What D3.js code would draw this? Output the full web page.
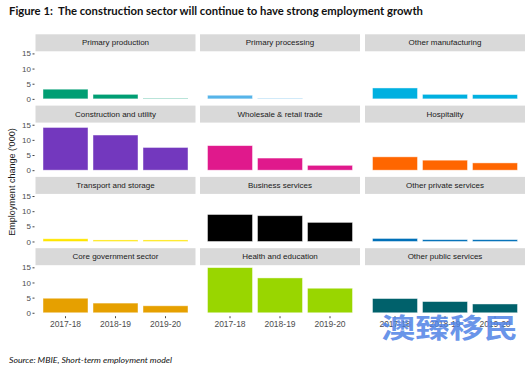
<!DOCTYPE html>
<html>
<head>
<meta charset="utf-8">
<script src="https://cdn.jsdelivr.net/npm/d3@7"></script>
<style>
  body { margin: 0; background: #fff; }
  svg { display: block; }
</style>
</head>
<body>
<div id="chart"></div>
<script>
// data
var sectors = ["Primary production", "Primary processing", "Other manufacturing",
  "Construction and utility", "Wholesale & retail trade", "Hospitality",
  "Transport and storage", "Business services", "Other private services",
  "Core government sector", "Health and education", "Other public services"]
var years = ["2017-18", "2018-19", "2019-20"]
var change1718 = [3.2, 1.2, 3.6, 14.1, 8.1, 4.4, 0.9, 8.9, 1.0, 4.8, 14.9, 4.7]
var change1819 = [1.5, 0.2, 1.5, 11.6, 4.0, 3.3, 0.5, 8.5, 0.6, 3.2, 11.5, 3.7]
var change1920 = [0.2, 0.0, 1.4, 7.5, 1.6, 2.4, 0.5, 6.3, 0.6, 2.3, 8.1, 2.9]
var yTicks = [0, 5, 10, 15]

var sectorColors = ["#009E73", "#56B4E9", "#00B0E0", "#7338BE", "#E0198C", "#FF6600",
  "#FFE600", "#000000", "#0070B8", "#E6A000", "#99D600", "#00616B"]

var width = 532, height = 370
var svg = d3.select("#chart").append("svg")
    .attr("width", width).attr("height", height)

svg.append("rect").attr("width", width).attr("height", height).style("fill", "#fff")

// title
svg.append("text")
    .attr("x", 9).attr("y", 15)
    .attr("textLength", 414).attr("lengthAdjust", "spacingAndGlyphs")
    .style("white-space", "pre")
    .style("font-family", "Lato, 'Open Sans', sans-serif")
    .style("font-weight", "bold").style("font-size", "10.5px").style("fill", "#111")
    .text("Figure 1:  The construction sector will continue to have strong employment growth")

// facet layout
var panelW = 160, panelH = 50, stripH = 17,
  colX = [35.5, 200, 365],
  rowPitch = 71.3, top0 = 34.3

// discrete axis with ggplot-like expansion, bars 0.9 wide
var unit = panelW / 3.2
var x = d3.scaleBand().domain(years)
    .range([0.1 * unit, panelW - 0.1 * unit])
    .paddingInner(0.1).paddingOuter(0.05)

var y = d3.scaleLinear().domain([-0.8, 15.7]).range([panelH, 0])

sectors.forEach(function(name, i){
  var col = i % 3, row = Math.floor(i / 3)
  var g = svg.append("g")
      .attr("transform", "translate(" + colX[col] + "," + (top0 + row * rowPitch) + ")")

  g.append("rect")
      .attr("width", panelW).attr("height", stripH)
      .style("fill", "#d9d9d9")
  g.append("text")
      .attr("x", panelW / 2).attr("y", stripH / 2 + 2.7)
      .attr("text-anchor", "middle")
      .style("font-family", "'Liberation Sans Narrow', 'Liberation Sans', Arial, sans-serif")
      .style("font-size", "8px").style("fill", "#1a1a1a")
      .text(name)

  var p = g.append("g").attr("transform", "translate(0," + stripH + ")")
  var vals = [change1718[i], change1819[i], change1920[i]]

  p.selectAll("rect.bar").data(years).enter().append("rect")
      .attr("class", "bar")
      .attr("x", function(d){ return x(d) })
      .attr("width", x.bandwidth())
      .attr("y", function(d, j){ return y(Math.max(vals[j], 0)) })
      .attr("height", function(d, j){ return Math.abs(y(vals[j]) - y(0)) })
      .style("fill", sectorColors[i])
      .style("stroke", "#fff").style("stroke-width", 0.8).style("stroke-opacity", 0.55)

  if (col == 0) {
    var ya = p.append("g").attr("transform", "translate(-1,0)")
      .call(d3.axisLeft(y).tickValues(yTicks).tickSize(2).tickPadding(1.5))
    ya.select(".domain").remove()
    ya.selectAll("line").style("stroke", "#444")
    ya.selectAll("text").style("font-family", "'Liberation Sans', Arial, sans-serif")
      .style("font-size", "8px").style("fill", "#4d4d4d")
  }
  if (row == 3) {
    var xa = p.append("g").attr("transform", "translate(0," + (panelH + 1) + ")")
      .call(d3.axisBottom(x).tickSize(2).tickPadding(3))
    xa.select(".domain").remove()
    xa.selectAll("line").style("stroke", "#444")
    xa.selectAll("text").style("font-family", "'Liberation Sans', Arial, sans-serif")
      .style("font-size", "8.5px").style("fill", "#4d4d4d")
  }
})

// y axis title
svg.append("text")
    .attr("transform", "translate(15,182) rotate(-90)")
    .attr("text-anchor", "middle")
    .style("font-family", "'Liberation Sans', Arial, sans-serif")
    .style("font-size", "9px").style("fill", "#1a1a1a")
    .text("Employment change ('000)")

// source
svg.append("text")
    .attr("x", 9).attr("y", 363)
    .attr("textLength", 163).attr("lengthAdjust", "spacingAndGlyphs")
    .style("font-family", "Lato, 'Open Sans', sans-serif")
    .style("font-style", "italic").style("font-size", "8px").style("fill", "#111")
    .text("Source: MBIE, Short-term employment model")

// watermark
svg.append("text")
    .attr("x", 381).attr("y", 338)
    .attr("textLength", 137).attr("lengthAdjust", "spacingAndGlyphs")
    .style("font-family", "'Noto Sans CJK SC', sans-serif")
    .style("font-weight", "bold").style("font-size", "27px")
    .style("fill", "#4f82e6").style("fill-opacity", 0.85)
    .text("澳臻移民")
</script>
</body>
</html>
